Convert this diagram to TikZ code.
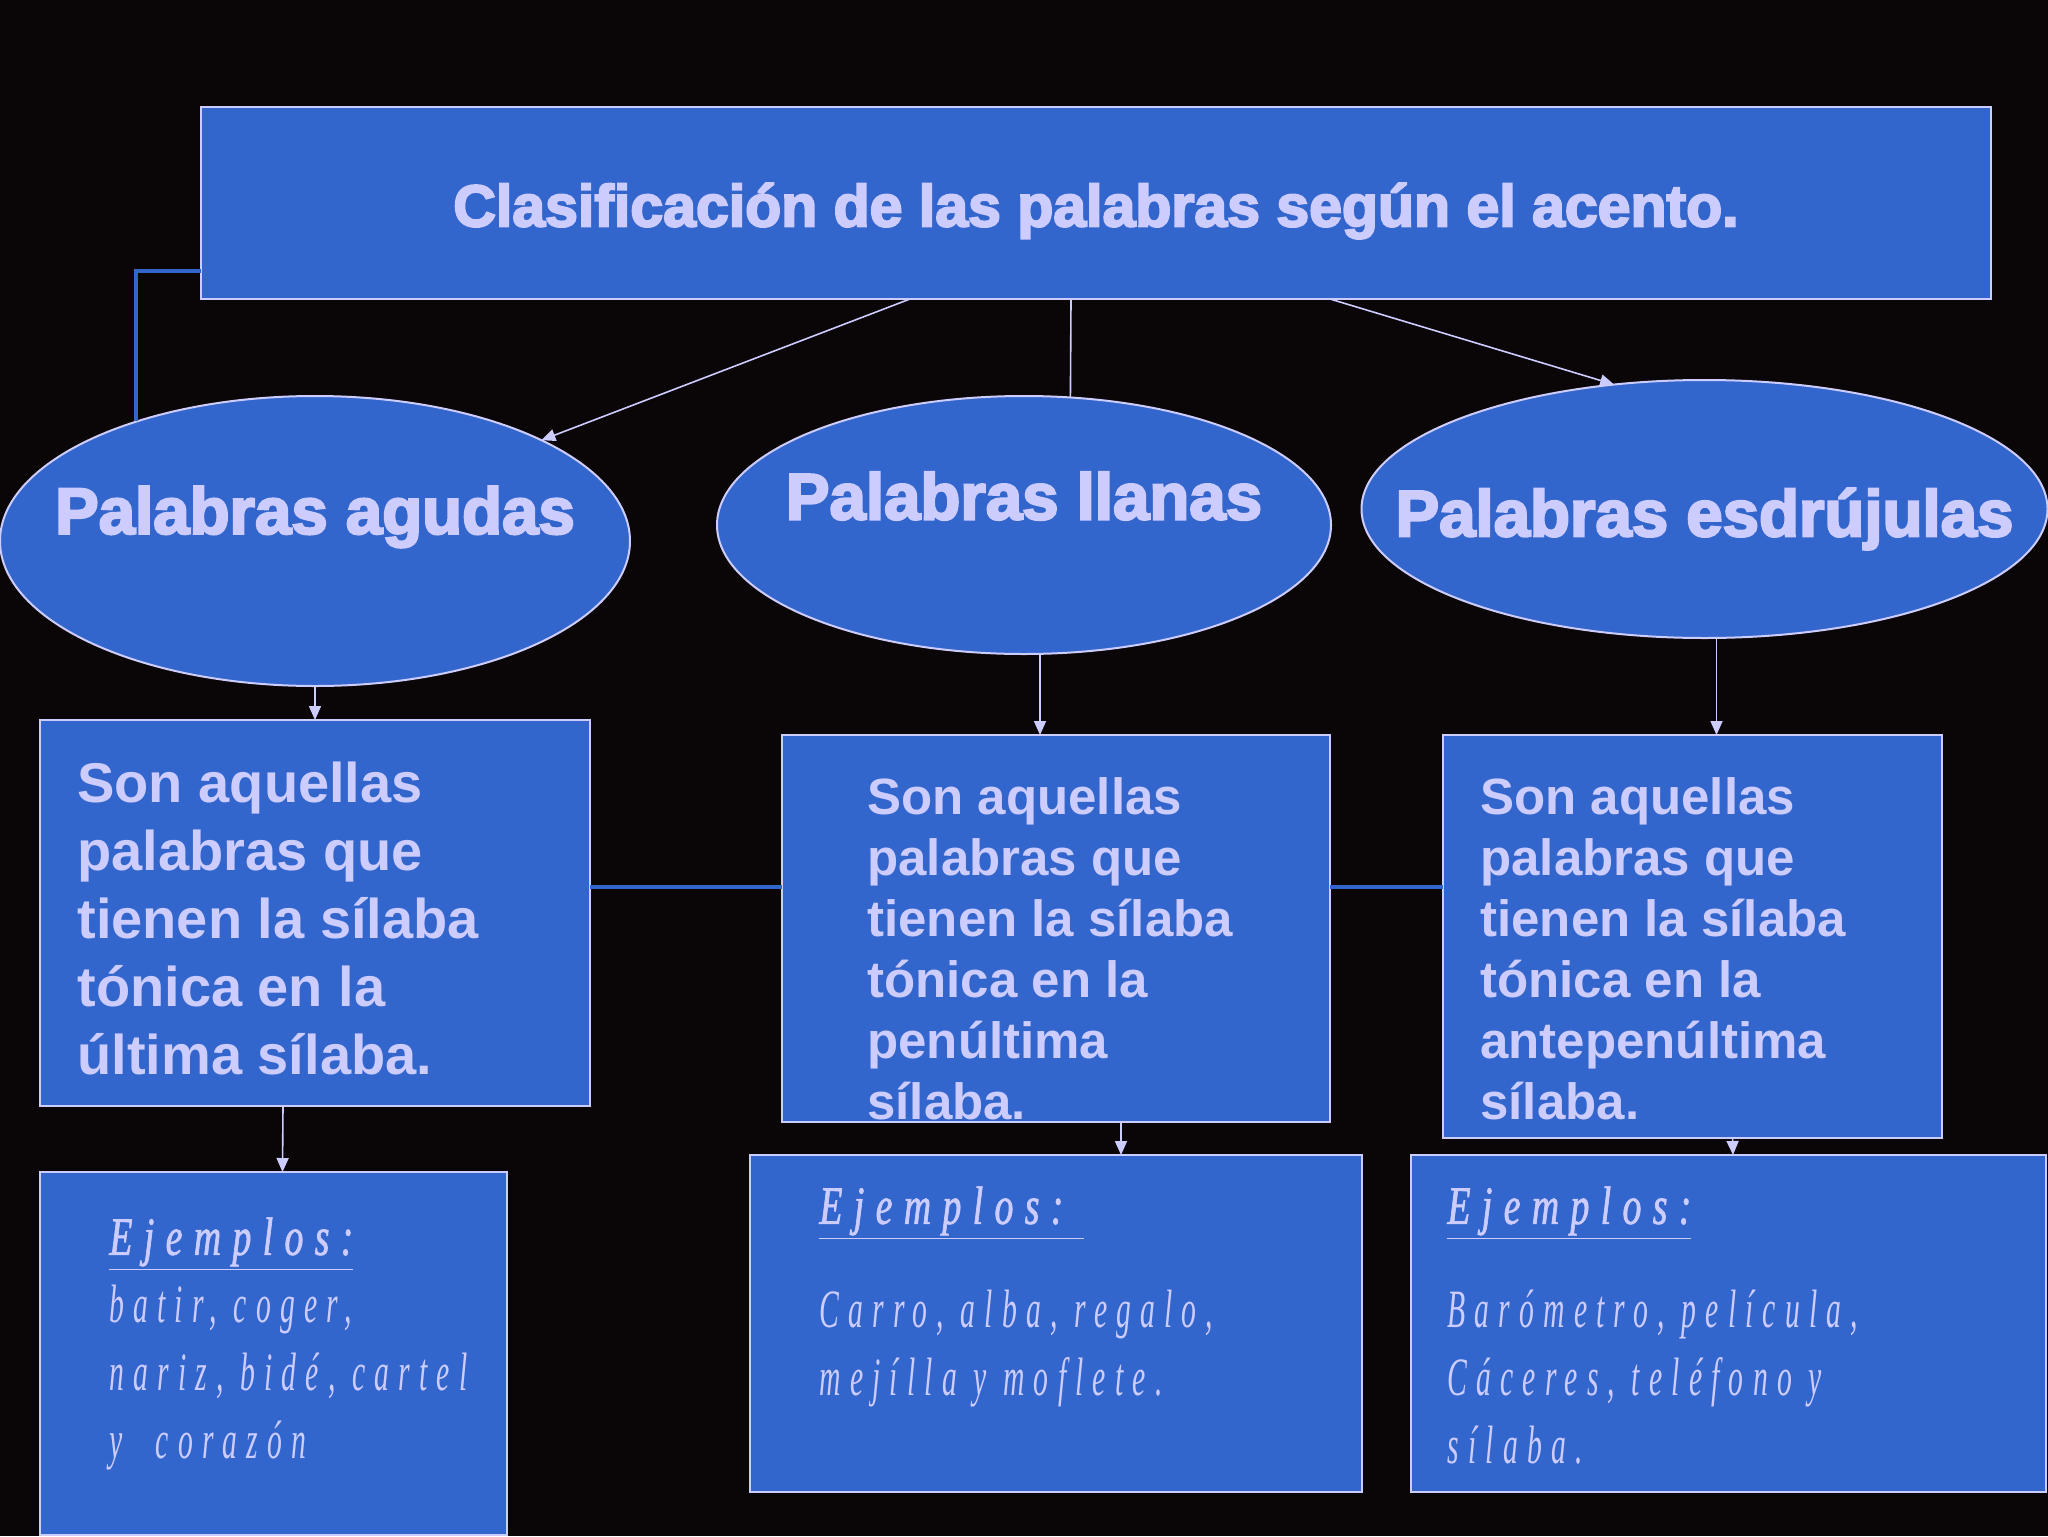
\documentclass[tikz,border=0pt]{standalone}
\usepackage{fontspec}
\usetikzlibrary{arrows.meta,shapes.geometric}
\definecolor{bg}{HTML}{0A0507}
\definecolor{boxblue}{HTML}{3366CC}
\definecolor{lav}{HTML}{CCCCFF}
\newfontfamily\heavyfont{Liberation Sans}[FakeBold=3.5]
\newfontfamily\boldsans{Liberation Sans}
\newfontfamily\exfont{Liberation Serif}[FakeStretch=0.55,LetterSpace=17]
\newfontfamily\exheadfont{Liberation Serif}[FakeStretch=0.7,LetterSpace=21,FakeBold=1.2]
\begin{document}
\begin{tikzpicture}[x=0.5pt,y=-0.5pt,
  box/.style={draw=lav,line width=1pt,fill=boxblue,rectangle,inner sep=0pt,outer sep=0pt},
  ell/.style={draw=lav,line width=1pt,fill=boxblue,ellipse,inner sep=0pt,outer sep=0pt},
  arr/.style={draw=lav,line width=0.8pt,-{Triangle[length=7pt,width=6pt]}},
  plainline/.style={draw=lav,line width=0.8pt},
  blueline/.style={draw=boxblue,line width=2pt},
  titletext/.style={text=lav,font=\heavyfont\bfseries\fontsize{29.5}{34}\selectfont,inner sep=0pt},
  elltext/.style={text=lav,font=\heavyfont\bfseries\fontsize{32.7}{38}\selectfont,inner sep=0pt},
  bodyA/.style={text=lav,align=left,inner sep=0pt,anchor=north west,font=\boldsans\bfseries\fontsize{28}{34}\selectfont},
  bodyB/.style={text=lav,align=left,inner sep=0pt,anchor=north west,font=\boldsans\bfseries\fontsize{25.5}{30.5}\selectfont},
  extext/.style={text=lav,align=left,inner sep=0pt,anchor=north west,font=\exfont\itshape\fontsize{27}{34}\selectfont}]
\newcommand\exhead[1]{{\exheadfont\itshape\underline{#1}}}
\fill[bg] (0,0) rectangle (2048,1536);
\useasboundingbox (0,0) rectangle (2048,1536);

% top box
\node[box,minimum width=895pt,minimum height=96pt,label={[titletext,yshift=-4pt]center:Clasificación de las palabras según el acento.}] (top) at (1096,203) {};

% ellipses
\node[ell,minimum width=315pt,minimum height=145pt,label={[elltext,yshift=12pt]center:Palabras agudas}] (agudas) at (315,541) {};
\node[ell,minimum width=307pt,minimum height=129pt,label={[elltext,yshift=14.5pt]center:Palabras llanas}] (llanas) at (1024,525) {};
\node[ell,minimum width=343pt,minimum height=129pt,label={[elltext,yshift=-5pt]center:Palabras esdrújulas}] (esd) at (1704.5,509) {};

% definition boxes
\node[box,minimum width=275pt,minimum height=193pt] (box1) at (315,913) {};
\node[box,minimum width=274pt,minimum height=193.5pt] (box2) at (1056,928.5) {};
\node[box,minimum width=249.5pt,minimum height=201.5pt] (box3) at (1692.5,936.5) {};

\node[bodyA] (t1) at (77,762) {Son aquellas\\palabras que\\tienen la sílaba\\tónica en la\\última sílaba.};
\node[bodyB] (t2) at (867,777) {Son aquellas\\palabras que\\tienen la sílaba\\tónica en la\\penúltima\\sílaba.};
\node[bodyB] (t3) at (1480,777) {Son aquellas\\palabras que\\tienen la sílaba\\tónica en la\\antepenúltima\\sílaba.};

% example boxes
\node[box,minimum width=233.5pt,minimum height=181.5pt] (ex1) at (273.5,1353.5) {};
\node[box,minimum width=306pt,minimum height=168.5pt] (ex2) at (1056,1323.5) {};
\node[box,minimum width=317.5pt,minimum height=168.5pt] (ex3) at (1728.5,1323.5) {};

\node[extext] (e1) at (109,1217) {\exhead{Ejemplos:}\\batir, coger,\\nariz, bidé, cartel\\y\ \ corazón};
\node[extext] (e2) at (819,1186) {\exhead{Ejemplos:\ }\\[18pt]Carro, alba, regalo,\\mejílla y moflete.};
\node[extext] (e3) at (1447,1186) {\exhead{Ejemplos:}\\[18pt]Barómetro, película,\\Cáceres, teléfono y\\sílaba.};

% connectors
\coordinate (agtop) at (136,421);
\draw[blueline] ([yshift=-34pt]top.west) -| (agtop);
\draw[arr] ([xshift=-93pt]top.south) -- (agudas.24);
\draw[plainline] ([xshift=-12.5pt]top.south) -- (llanas.70);
\draw[arr] ([xshift=117pt]top.south) -- (esd.126);

\draw[arr] (agudas.south) -- (box1.north);
\draw[arr] ([xshift=8pt]llanas.south) -- ([xshift=-8pt]box2.north);
\draw[arr] ([xshift=6pt]esd.south) -- ([xshift=12pt]box3.north);

\draw[blueline] ([yshift=13pt]box1.east) -- ([yshift=20.75pt]box2.west);
\draw[blueline] ([yshift=20.75pt]box2.east) -- ([yshift=24.75pt]box3.west);

\draw[arr] ([xshift=-16pt]box1.south) -- ([xshift=4.5pt]ex1.north);
\draw[arr] ([xshift=32.5pt]box2.south) -- ([xshift=32.5pt]ex2.north);
\draw[arr] ([xshift=20pt]box3.south) -- ([xshift=2.25pt]ex3.north);
\end{tikzpicture}
\end{document}
